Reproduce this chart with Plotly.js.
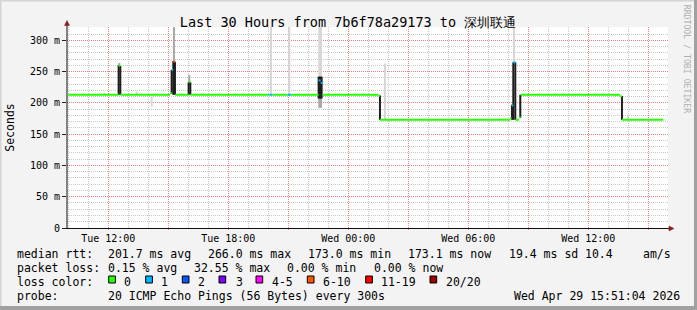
<!DOCTYPE html>
<html><head><meta charset="utf-8">
<script src="https://cdn.plot.ly/plotly-3.0.1.min.js"></script>
<style>html,body{margin:0;padding:0;background:#f3f3f3;}#chart{width:697px;height:310px;}</style>
</head><body><div id="chart"></div>
<script>
// ---- median rtt (ms): step start times, values, loss class ----
const medTimes = ['2026-04-28 10:00','2026-04-28 12:31','2026-04-28 12:36','2026-04-28 15:05','2026-04-28 15:10',
  '2026-04-28 15:15','2026-04-28 15:21','2026-04-28 16:01','2026-04-28 16:06','2026-04-28 20:03',
  '2026-04-28 20:13','2026-04-28 20:58','2026-04-28 21:08','2026-04-28 22:31','2026-04-28 22:37',
  '2026-04-28 22:43','2026-04-29 01:30','2026-04-29 01:35','2026-04-29 08:05','2026-04-29 08:10',
  '2026-04-29 08:15','2026-04-29 08:22','2026-04-29 08:32','2026-04-29 08:37','2026-04-29 13:35',
  '2026-04-29 13:41','2026-04-29 15:45'];
const medValues = [213,259.5,213,216,253,266,213,234,213,213,213,213,213,236,232,213,211.5,173,175.5,196,264.8,173,177,213,210.5,173];
const medLoss = [0,0,0,0,1,5,0,0,0,1,0,1,0,1,1,0,0,0,0,1,1,0,0,0,0,0];

// ---- smoke (ping spread, ms) ----
const darkSmokeTimes = ['2026-04-28 12:31','2026-04-28 12:36','2026-04-28 15:10','2026-04-28 15:15','2026-04-28 15:20',
  '2026-04-28 16:01','2026-04-28 16:06','2026-04-28 22:31','2026-04-28 22:34','2026-04-28 22:37','2026-04-28 22:40',
  '2026-04-29 01:35','2026-04-29 08:11','2026-04-29 08:15','2026-04-29 08:21','2026-04-29 08:36','2026-04-29 13:41'];
const darkSmokeLow  = [213,213,215,213,213,213,213,207,207,207,207,173,173,173,173,176,173];
const darkSmokeHigh = [260,259,253,267,266,233,233,242,242,242,242,212,197,265,265,213,211];

const midSmokeTimes = ['2026-04-28 12:33','2026-04-28 15:17','2026-04-28 16:03','2026-04-28 22:33','2026-04-28 22:38'];
const midSmokeLow  = [259,267,234,192,192];
const midSmokeHigh = [264,330,245,207,207];

const lightSmokeTimes = ['2026-04-28 11:48','2026-04-28 13:25','2026-04-28 14:10','2026-04-28 15:40','2026-04-28 16:40',
  '2026-04-28 20:08','2026-04-28 21:03','2026-04-28 22:33','2026-04-28 22:38','2026-04-29 01:50','2026-04-29 08:17','2026-04-29 13:59'];
const lightSmokeLow  = [213,213,194,213,213,213,213,242,242,173,265,173];
const lightSmokeHigh = [216.5,218.5,213,216,215.5,330,330,330,330,263,330,181];

// ---- loss colours ----
const lossLabels = ['0','1','2','3','4-5','6-10','11-19','20/20'];
const lossColors = ['#26ff00','#00b8ff','#0059ff','#7e00ff','#ff00ff','#ff5500','#ff0000','#a10000'];

// ---- ticks ----
const xTickVals = ['2026-04-28 12:00','2026-04-28 15:00','2026-04-28 18:00','2026-04-28 21:00','2026-04-29 00:00',
  '2026-04-29 03:00','2026-04-29 06:00','2026-04-29 09:00','2026-04-29 12:00','2026-04-29 15:00'];
const xTickLabels = ['Tue 12:00','','Tue 18:00','','Wed 00:00','','Wed 06:00','','Wed 12:00',''];
const yTickVals = [0,50,100,150,200,250,300];
const yTickLabels = ['0','50 m','100 m','150 m','200 m','250 m','300 m'];

// ---- legend texts ----
const rttStats = ['201.7 ms avg','266.0 ms max','173.0 ms min','173.1 ms now','19.4 ms sd','10.4','am/s'];
const lossStats = ['0.15 % avg','32.55 % max','0.00 % min','0.00 % now'];
const probeText = '20 ICMP Echo Pings (56 Bytes) every 300s';
const stampText = 'Wed Apr 29 15:51:04 2026';
const titleText = 'Last 30 Hours from 7b6f78a29173 to <span style="font-size:13px">深圳联通</span>';

// ================= build =================
const MONO = 'DejaVu Sans Mono';
const W = 697, H = 310, ML = 67, MR = 29, MT = 27, MB = 82;
const PW = W - ML - MR, PH = H - MT - MB;
const px = x => (x - ML) / PW;
const py = y => (H - MB - y) / PH;

function smokeTrace(times, lo, hi, color, width) {
  const x = [], y = [];
  times.forEach((t, i) => { x.push(t, t, null); y.push(lo[i], hi[i], null); });
  return {type:'scatter', mode:'lines', x, y, line:{color, width}, hoverinfo:'skip', connectgaps:false};
}
const traces = [
  smokeTrace(lightSmokeTimes, lightSmokeLow, lightSmokeHigh, '#d6d6d6', 2),
  smokeTrace(midSmokeTimes, midSmokeLow, midSmokeHigh, '#a8a8a8', 2),
  smokeTrace(darkSmokeTimes, darkSmokeLow, darkSmokeHigh, '#1e1e1e', 2)
];
lossColors.forEach((c, k) => {
  const x = [], y = [];
  for (let i = 0; i < medValues.length; i++) {
    if (medLoss[i] === k) { x.push(medTimes[i], medTimes[i+1], null); y.push(medValues[i], medValues[i], null); }
  }
  if (x.length) traces.push({type:'scatter', mode:'lines', x, y, line:{color:c, width:2}, hoverinfo:'skip'});
});

const annotations = [];
function txt(xp, yp, t, opts) {
  annotations.push(Object.assign({xref:'paper', yref:'paper', x:px(xp), y:py(yp), text:t, showarrow:false,
    xanchor:'left', yanchor:'middle', borderpad:0, font:{family:MONO, size:11.5, color:'#000'}}, opts||{}));
}
const L1 = 253.8, L2 = 267.8, L3 = 281.8, L4 = 295.8;
txt(16, L1, 'median rtt:');
[107.3,207.3,307.3,407.3,508.3,584,641.7].forEach((x,i) => txt(x, L1, rttStats[i]));
txt(16, L2, 'packet loss:');
[107.3,193.3,286,372.7].forEach((x,i) => txt(x, L2, lossStats[i]));
txt(16, L3, 'loss color:');
const boxX = [108.7,145.7,182.3,219,256,307.3,365.7,430];
const boxLabelX = [123.3,160,196.7,235,270.7,321.7,380,445];
boxLabelX.forEach((x,i) => txt(x, L3, lossLabels[i]));
txt(16, L4, 'probe:');
txt(107.3, L4, probeText);
txt(512.7, L4, stampText);
txt(687.3, 59, 'RRDTOOL / TOBI OETIKER', {xanchor:'center', textangle:90, font:{family:MONO, size:8.2, color:'#b0b0b0'}});

const shapes = [];
boxX.forEach((x,i) => shapes.push({type:'rect', xref:'paper', yref:'paper', x0:px(x), x1:px(x+6.7), y0:py(283), y1:py(276),
  fillcolor:lossColors[i], line:{color:'#000', width:1}}));
// frame
shapes.push({type:'line', xref:'paper', yref:'paper', x0:px(0), x1:px(697), y0:py(0.5), y1:py(0.5), line:{color:'#d4d4d4', width:2}});
shapes.push({type:'line', xref:'paper', yref:'paper', x0:px(0.5), x1:px(0.5), y0:py(0), y1:py(310), line:{color:'#d4d4d4', width:2}});
shapes.push({type:'line', xref:'paper', yref:'paper', x0:px(695.5), x1:px(695.5), y0:py(0), y1:py(310), line:{color:'#a0a0a0', width:3}});
shapes.push({type:'line', xref:'paper', yref:'paper', x0:px(0), x1:px(697), y0:py(308), y1:py(308), line:{color:'#a0a0a0', width:4}});
// axes with arrows
shapes.push({type:'line', xref:'paper', yref:'paper', x0:px(67), x1:px(67), y0:py(228.5), y1:py(24), line:{color:'#111', width:1}});
shapes.push({type:'line', xref:'paper', yref:'paper', x0:px(66), x1:px(669), y0:py(228.5), y1:py(228.5), line:{color:'#111', width:1}});
shapes.push({type:'path', xref:'paper', yref:'paper',
  path:`M ${px(64.5)} ${py(25.5)} L ${px(69.5)} ${py(25.5)} L ${px(67)} ${py(20.5)} Z`, fillcolor:'#8b1c1c', line:{color:'#8b1c1c', width:0.5}});
shapes.push({type:'path', xref:'paper', yref:'paper',
  path:`M ${px(669)} ${py(226)} L ${px(669)} ${py(231)} L ${px(674)} ${py(228.5)} Z`, fillcolor:'#8b1c1c', line:{color:'#8b1c1c', width:0.5}});

const layout = {
  width:W, height:H, margin:{l:ML, r:MR, t:MT, b:MB, pad:0},
  paper_bgcolor:'#f3f3f3', plot_bgcolor:'#ffffff', showlegend:false,
  font:{family:MONO, size:10, color:'#000'},
  title:{text:titleText, xref:'container', x:348/W, xanchor:'center', yref:'container', y:1-22/H, yanchor:'middle',
    font:{family:MONO, size:13.5, color:'#000'}},
  xaxis:{type:'date', range:['2026-04-28 09:56:06','2026-04-29 15:59:09'], tickmode:'array', tickvals:xTickVals, ticktext:xTickLabels,
    ticks:'outside', ticklen:1, tickcolor:'#e08080', tickfont:{family:MONO, size:10, color:'#000'},
    showgrid:true, gridcolor:'#f08080', griddash:'1px,1px', gridwidth:1, zeroline:false, showline:false,
    minor:{tickmode:'linear', tick0:'2026-04-28 10:00', dtick:3600000, showgrid:true, gridcolor:'#c8c8c8', griddash:'1px,1px', gridwidth:1}},
  yaxis:{range:[0,321.4], tickmode:'array', tickvals:yTickVals, ticktext:yTickLabels,
    ticks:'outside', ticklen:4, tickcolor:'#222', tickfont:{family:MONO, size:10, color:'#000'},
    showgrid:true, gridcolor:'#f08080', griddash:'1px,1px', gridwidth:1, zeroline:false, showline:false,
    minor:{tickmode:'linear', tick0:0, dtick:10, showgrid:true, gridcolor:'#c8c8c8', griddash:'1px,1px', gridwidth:1},
    title:{text:'Seconds', font:{family:MONO, size:11.5, color:'#000'}, standoff:12}},
  annotations, shapes
};
Plotly.newPlot('chart', traces, layout, {staticPlot:true, displayModeBar:false});
</script></body></html>
